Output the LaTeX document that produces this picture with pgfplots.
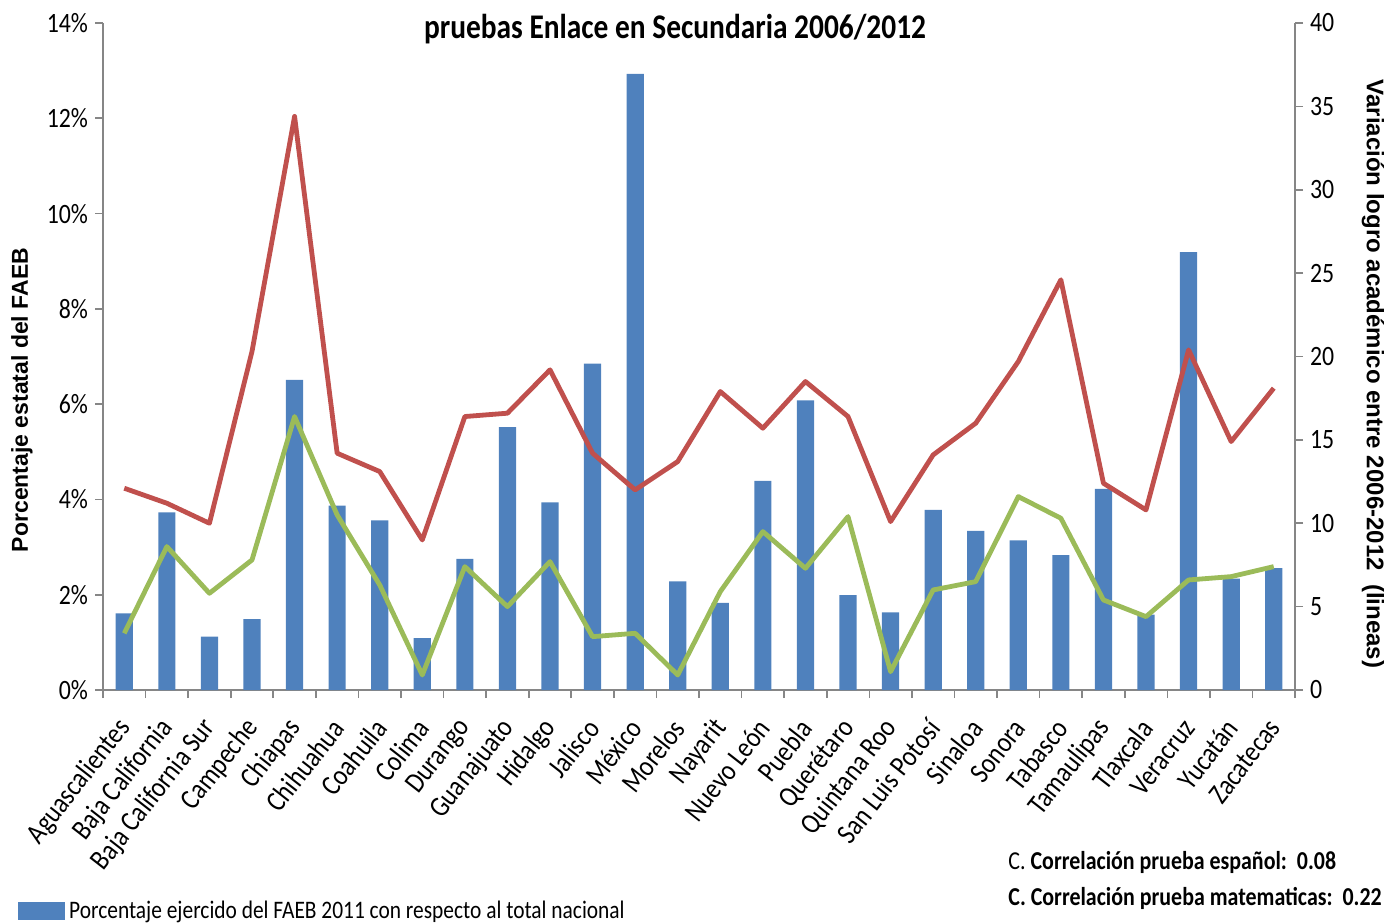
\documentclass[border=0pt]{standalone}
\usepackage{fontspec}
\setmainfont{Carlito}[FakeStretch=0.85]
\newfontfamily\labfont{Liberation Sans}
\usepackage{pgfplots}
\usepackage{pgfplotstable}
\pgfplotsset{compat=1.18}
\definecolor{barblue}{HTML}{4F81BD}
\definecolor{linered}{HTML}{C0504D}
\definecolor{linegreen}{HTML}{9BBB59}
\definecolor{axgray}{HTML}{868686}
\pgfplotstableread{
idx bar red green
0 1.61 12.1 3.4
1 3.73 11.2 8.6
2 1.12 10.0 5.8
3 1.49 20.3 7.8
4 6.51 34.4 16.4
5 3.87 14.2 10.5
6 3.56 13.1 6.3
7 1.09 9.0 0.9
8 2.75 16.4 7.4
9 5.52 16.6 5.0
10 3.94 19.2 7.7
11 6.85 14.2 3.2
12 12.93 12.0 3.4
13 2.28 13.7 0.9
14 1.83 17.9 5.9
15 4.39 15.7 9.5
16 6.08 18.5 7.3
17 1.99 16.4 10.4
18 1.63 10.1 1.1
19 3.78 14.1 6.0
20 3.34 16.0 6.5
21 3.14 19.7 11.6
22 2.83 24.6 10.3
23 4.22 12.4 5.4
24 1.58 10.8 4.4
25 9.19 20.4 6.6
26 2.34 14.9 6.8
27 2.56 18.1 7.4
}\datatable
\begin{document}
\begin{tikzpicture}[x=1pt,y=1pt]
\useasboundingbox (0,0) rectangle (692,461);
\pgfplotsset{
  common/.style={
    at={(51.5pt,116pt)}, anchor=south west,
    scale only axis, width=596pt, height=333.5pt,
    xmin=-0.5, xmax=27.5,
    axis line style={axgray, line width=0.8pt},
    tick style={axgray, line width=0.8pt},
    tick align=outside,
    major tick length=4pt,
    /pgf/number format/assume math mode=true,
    tick label style={font=\fontsize{14}{14}\selectfont},
  }
}
\begin{axis}[common,
  axis y line*=left, axis x line*=bottom,
  ymin=0, ymax=14,
  ytick={0,2,...,14},
  yticklabel={\pgfmathprintnumber{\tick}\%},
  xtick={0,...,27},
  xticklabels={Aguascalientes,Baja California,Baja California Sur,Campeche,Chiapas,Chihuahua,Coahuila,Colima,Durango,Guanajuato,Hidalgo,Jalisco,México,Morelos,Nayarit,Nuevo León,Puebla,Querétaro,Quintana Roo,San Luis Potosí,Sinaloa,Sonora,Tabasco,Tamaulipas,Tlaxcala,Veracruz,Yucatán,Zacatecas},
  x tick label style={xshift=0.5pt, yshift=-12.5pt, rotate=52, anchor=east, inner sep=0pt, font=\fontsize{14.5}{14.5}\selectfont},
  major x tick style={draw=none},
  minor xtick={-0.5,0.5,...,27.5},
  minor tick length=4pt,
  minor x tick style={axgray, line width=0.8pt},
  legend style={at={(-0.0715,-0.331)}, anchor=west, draw=none, fill=none,
    font=\fontsize{12.6}{12.6}\selectfont, inner sep=0pt},
  legend image code/.code={\fill[barblue] (0pt,-4.5pt) rectangle (23.5pt,4.5pt);},
]
\addplot[ybar, bar width=8.6pt, fill=barblue, draw=none] table[x=idx,y=bar]{\datatable};
\addlegendentry{Porcentaje ejercido del FAEB 2011 con respecto al total nacional}
\end{axis}
\begin{axis}[common,
  axis y line*=right, axis x line=none,
  ymin=0, ymax=40,
  ytick={0,5,...,40},
]
\addplot[linered, line width=2.4pt, line join=round] table[x=idx,y=red]{\datatable};
\addplot[linegreen, line width=2.4pt, line join=round] table[x=idx,y=green]{\datatable};
\end{axis}
\node[font=\bfseries\fontsize{17.3}{17.3}\selectfont] at (337.5,446.5) {pruebas Enlace en Secundaria 2006/2012};
\node[rotate=90, font=\labfont\bfseries\fontsize{11.5}{11.5}\selectfont] at (11,261) {Porcentaje estatal del FAEB};
\node[rotate=-90, font=\labfont\bfseries\fontsize{12}{12}\selectfont] at (686.5,274) {Variación logro académico entre 2006-2012\ \ (lineas)};
\node[anchor=west, font=\fontsize{12.9}{12.9}\selectfont, inner sep=0pt] at (504,30) {C. \textbf{Correlación prueba español:\ \ 0.08}};
\node[anchor=west, font=\bfseries\fontsize{12.9}{12.9}\selectfont, inner sep=0pt] at (504,12) {C. Correlación prueba matematicas:\ \ 0.22};
\end{tikzpicture}
\end{document}
